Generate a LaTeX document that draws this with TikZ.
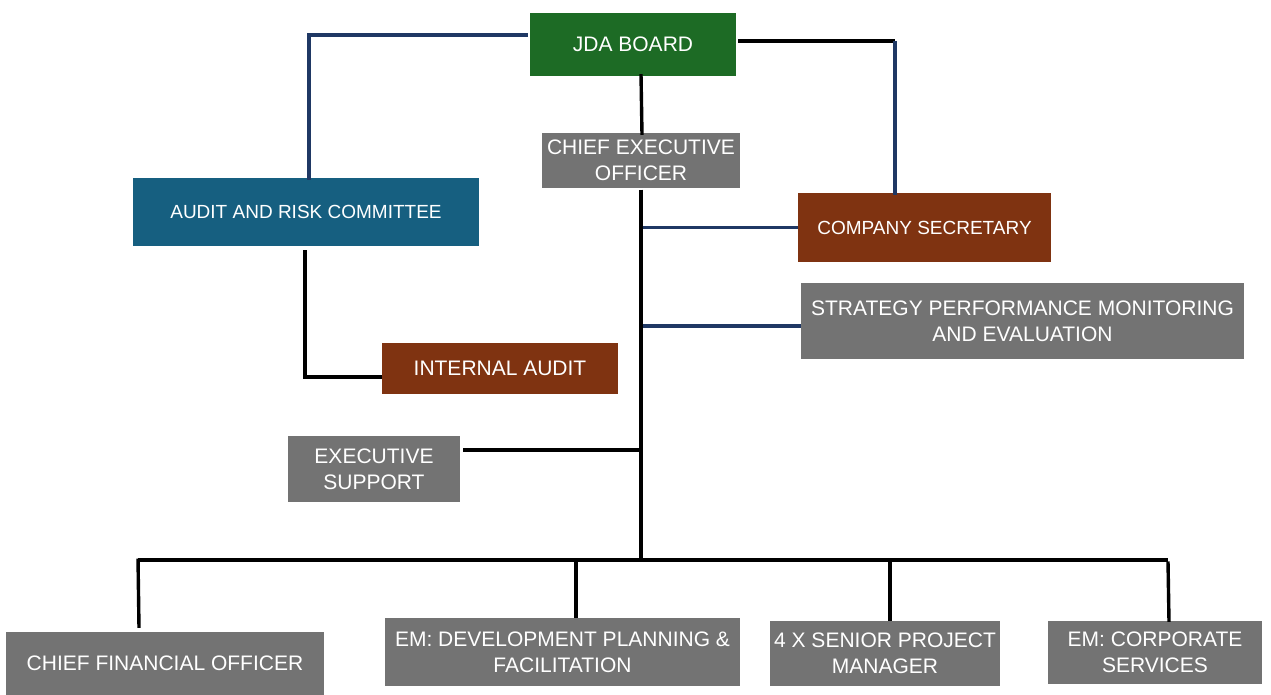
\documentclass[tikz,border=0pt]{standalone}
\usepackage{fontspec}
\setmainfont{Liberation Sans}
\begin{document}
\begin{tikzpicture}[x=1pt,y=-1pt,
  box/.style={rectangle,inner sep=0pt,text=white,align=center,
    font=\fontsize{21}{26}\selectfont},
  gray/.style={box,fill=boxgray},
  navyline/.style={draw=navy,line width=3.2pt},
  blackline/.style={draw=black,line width=3.4pt}]
\definecolor{boxgray}{HTML}{737373}
\definecolor{boardgreen}{HTML}{1D6B25}
\definecolor{teal}{HTML}{165F80}
\definecolor{rust}{HTML}{7F3311}
\definecolor{navy}{HTML}{1F3864}
\useasboundingbox[fill=white] (0,0) rectangle (1271,695);

% boxes
\node[box,fill=boardgreen,minimum width=206pt,minimum height=63pt] (jda) at (633,44.5) {JDA BOARD};
\node[gray,minimum width=198pt,minimum height=55pt] (ceo) at (641,160.5) {CHIEF EXECUTIVE\\OFFICER};
\node[box,fill=teal,minimum width=346pt,minimum height=68pt,font=\fontsize{19}{24}\selectfont] (arc) at (306,212) {AUDIT AND RISK COMMITTEE};
\node[box,fill=rust,minimum width=253pt,minimum height=69pt,font=\fontsize{19}{24}\selectfont] (cosec) at (924.5,227.5) {COMPANY SECRETARY};
\node[gray,minimum width=443pt,minimum height=76pt] (spme) at (1022.5,321) {STRATEGY PERFORMANCE MONITORING\\AND EVALUATION};
\node[box,fill=rust,minimum width=236pt,minimum height=51pt] (ia) at (500,368.5) {INTERNAL AUDIT};
\node[gray,minimum width=172pt,minimum height=66pt] (es) at (374,469) {EXECUTIVE\\SUPPORT};
\node[gray,minimum width=318pt,minimum height=63pt] (cfo) at (165,663.5) {CHIEF FINANCIAL OFFICER};
\node[gray,minimum width=355pt,minimum height=68pt] (emdp) at (562.5,652) {EM: DEVELOPMENT PLANNING \&\\FACILITATION};
\node[gray,minimum width=230pt,minimum height=65pt] (spm) at (885,653.5) {4 X SENIOR PROJECT\\MANAGER};
\node[gray,minimum width=214pt,minimum height=63pt] (emcs) at (1155,652.5) {EM: CORPORATE\\SERVICES};

% junction points
\coordinate (jr) at (895,41);
\coordinate (busl) at (138,560);
\coordinate (busr) at (1168,560);
\coordinate (busc) at (641,562);

% board links
\draw[navyline] ([yshift=9.5pt,xshift=-2pt]jda.west) -| ([xshift=3pt,yshift=-2pt]arc.north);
\draw[blackline] ([yshift=3.5pt,xshift=2pt]jda.east) -- (jr);
\draw[navyline] (jr) -- ([yshift=-2pt]cosec.north -| jr);
\draw[blackline] ([xshift=8pt,yshift=2pt]jda.south) -- ([xshift=1pt,yshift=-2pt]ceo.north);

% CEO spine
\draw[blackline] ([yshift=-1.5pt]ceo.south) -- (busc);
\draw[navyline] ([xshift=1.5pt]ceo.south |- cosec.west) -- (cosec.west);
\draw[navyline] ([xshift=1.5pt,yshift=-5pt]ceo.south |- spme.west) -- ([yshift=-5pt]spme.west);
\draw[blackline] ([yshift=19pt,xshift=3pt]es.east) -- ([yshift=19pt]ceo.south |- es.east);

% audit committee to internal audit
\draw[blackline] ([xshift=-1pt,yshift=-4pt]arc.south) |- ([yshift=-8.5pt]ia.west);

% bottom bus and drops
\draw[blackline] (busl) -- (busr);
\draw[blackline] ([yshift=1.5pt]busl) -- ([xshift=-26pt,yshift=4pt]cfo.north);
\draw[blackline] ([xshift=13.5pt]emdp.north |- busc) -- ([xshift=13.5pt]emdp.north);
\draw[blackline] ([xshift=5pt]spm.north |- busc) -- ([xshift=5pt]spm.north);
\draw[blackline] ([yshift=-1.5pt]busr) -- ([xshift=14pt,yshift=-1pt]emcs.north);
\end{tikzpicture}
\end{document}
